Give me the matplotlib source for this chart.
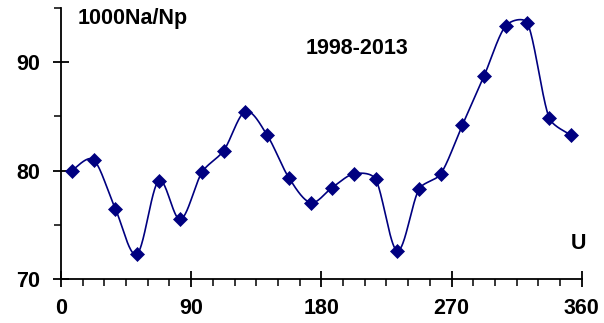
import numpy as np
import matplotlib
matplotlib.use("Agg")
import matplotlib.pyplot as plt
from matplotlib.ticker import MultipleLocator

## Data: sector centres (U, deg) and 1000Na/Np
u = [7.5, 22.5, 37.5, 52.5, 67.5, 82.5, 97.5, 112.5, 127.5, 142.5, 157.5, 172.5,
     187.5, 202.5, 217.5, 232.5, 247.5, 262.5, 277.5, 292.5, 307.5, 322.5, 337.5, 352.5]
ratio = [80.0, 81.0, 76.5, 72.3, 79.05, 75.5, 79.85, 81.85, 85.45, 83.27, 79.35, 77.05,
         78.43, 79.7, 79.2, 72.6, 78.28, 79.7, 84.2, 88.74, 93.36, 93.6, 84.87, 83.27]

xticks = [0, 90, 180, 270, 360]
yticks = [70, 80, 90]

colour = "#000080"
plt.rcParams["font.family"] = ["Liberation Sans", "DejaVu Sans"]
plt.rcParams["font.weight"] = "bold"

# rough pixels per data unit, used to shape the curve in screen space
XS, YS = 1.447, 10.83


def smooth(xs, ys, n=40):
    # catmull-rom style bezier, control arms clamped to a third of the chord
    p = np.column_stack([np.array(xs) * XS, np.array(ys) * YS])
    ext = np.vstack([p[0], p, p[-1]])
    tang = (ext[2:] - ext[:-2]) / 6
    out = []
    t = np.linspace(0, 1, n)[:, None]
    for i in range(len(p) - 1):
        p0, p3 = p[i], p[i + 1]
        lim = np.linalg.norm(p3 - p0) / 3
        a, b = tang[i], tang[i + 1]
        if np.linalg.norm(a) > lim:
            a = a / np.linalg.norm(a) * lim
        if np.linalg.norm(b) > lim:
            b = b / np.linalg.norm(b) * lim
        c1 = p0 + a
        c2 = p3 - b
        seg = ((1 - t) ** 3) * p0 + 3 * ((1 - t) ** 2) * t * c1 + 3 * (1 - t) * t ** 2 * c2 + t ** 3 * p3
        out.append(seg)
    c = np.vstack(out)
    return c[:, 0] / XS, c[:, 1] / YS


fig = plt.figure(figsize=(6.04, 3.23), dpi=100)
ax = fig.add_axes([61 / 604, 1 - 279 / 323, 520.7 / 604, 271 / 323])

sx, sy = smooth(u, ratio)
ax.plot(sx, sy, color=colour, linewidth=1.2)
ax.plot(u, ratio, linestyle="none", marker="D", markersize=7.5,
        color=colour, markeredgecolor=colour, markeredgewidth=0.5)

ax.set_xlim(0, 360)
ax.set_ylim(70, 95)
ax.set_xticks(xticks)
ax.set_yticks(yticks)
ax.xaxis.set_minor_locator(MultipleLocator(15))
ax.yaxis.set_minor_locator(MultipleLocator(5))

for side in ["top", "right"]:
    ax.spines[side].set_visible(False)
for side in ["left", "bottom"]:
    ax.spines[side].set_linewidth(1.3)

ax.tick_params(which="major", direction="inout", length=12, width=1.3,
               labelsize=15.5)
ax.tick_params(axis="y", which="major", pad=9)
ax.tick_params(axis="x", which="major", pad=8)
ax.tick_params(which="minor", direction="out", length=5, width=1.1)

ax.text(11.7, 94.0, "1000Na/Np", fontsize=15.5, fontweight="bold", va="center", ha="left")
ax.text(169.3, 91.26, "1998-2013", fontsize=15.5, fontweight="bold", va="center", ha="left")
ax.text(358, 73.3, "U", fontsize=15.5, fontweight="bold", va="center", ha="center")

fig.savefig("out.png", dpi=100)
